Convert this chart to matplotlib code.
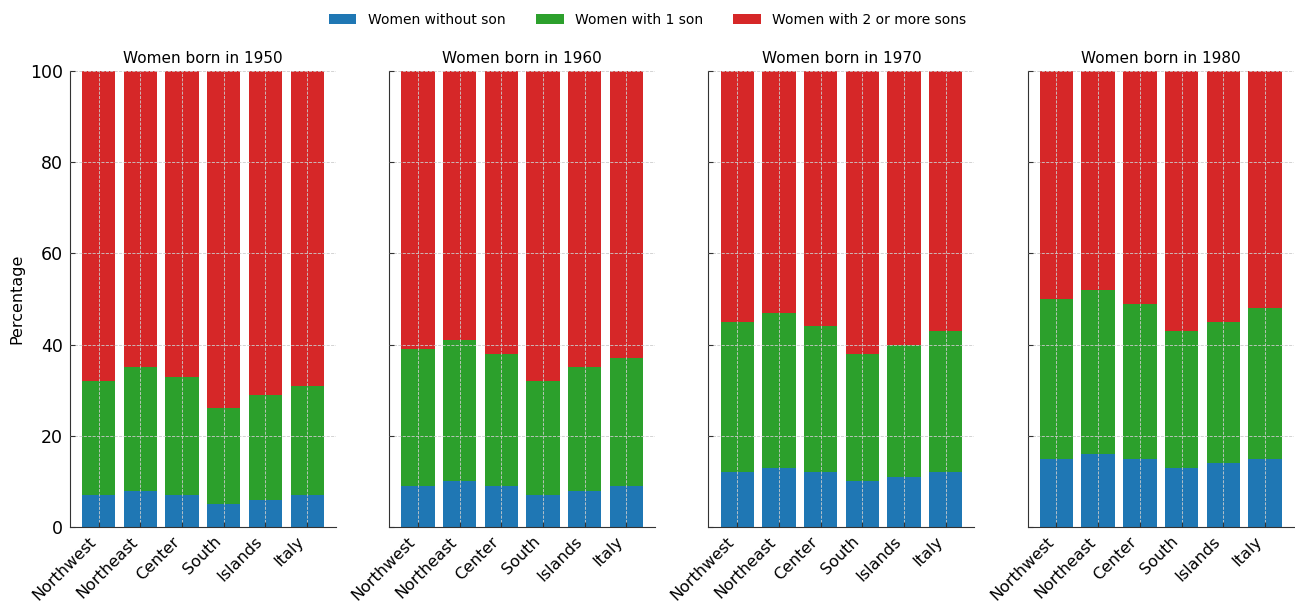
import matplotlib.pyplot as plt
import numpy as np

# data (percent)
regions = ["Northwest", "Northeast", "Center", "South", "Islands", "Italy"]
cohorts = ["1950", "1960", "1970", "1980"]
series_names = ["Women without son", "Women with 1 son", "Women with 2 or more sons"]
colors = ["#1f77b4", "#2ca02c", "#d62728"]

no_son = [
    [7, 8, 7, 5, 6, 7],
    [9, 10, 9, 7, 8, 9],
    [12, 13, 12, 10, 11, 12],
    [15, 16, 15, 13, 14, 15],
]
one_son = [
    [25, 27, 26, 21, 23, 24],
    [30, 31, 29, 25, 27, 28],
    [33, 34, 32, 28, 29, 31],
    [35, 36, 34, 30, 31, 33],
]

fig, axes = plt.subplots(1, 4, figsize=(12.95, 6.01), dpi=100, sharey=True)
fig.subplots_adjust(left=0.054, right=0.999, top=0.882, bottom=0.123, wspace=0.2)

x = np.arange(len(regions))
for i, ax in enumerate(axes):
    a = np.array(no_son[i])
    b = np.array(one_son[i])
    c = 100 - a - b
    ax.bar(x, a, color=colors[0], width=0.8, label=series_names[0], zorder=2)
    ax.bar(x, b, bottom=a, color=colors[1], width=0.8, label=series_names[1], zorder=2)
    ax.bar(x, c, bottom=a + b, color=colors[2], width=0.8, label=series_names[2], zorder=2)
    ax.set_title(f"Women born in {cohorts[i]}", fontsize=11)
    ax.set_ylim(0, 100)
    ax.set_xticks(x)
    ax.set_xticklabels(regions, rotation=45, ha="right", fontsize=11.5)
    ax.tick_params(axis="y", labelsize=12.5)
    ax.tick_params(direction="in", color="#333333", pad=5)
    ax.grid(True, linestyle="--", color="#cccccc", linewidth=0.6, zorder=3)
    ax.set_axisbelow(False)
    ax.spines["top"].set_visible(False)
    ax.spines["right"].set_visible(False)
    for s in ("left", "bottom"):
        ax.spines[s].set_color("#333333")

axes[0].set_ylabel("Percentage", fontsize=11.5)

handles, labels = axes[0].get_legend_handles_labels()
fig.legend(handles, labels, loc="upper center", ncol=3, frameon=False,
           fontsize=10, bbox_to_anchor=(0.5, 1.0), columnspacing=2.2)

plt.savefig("out.png", dpi=100)
